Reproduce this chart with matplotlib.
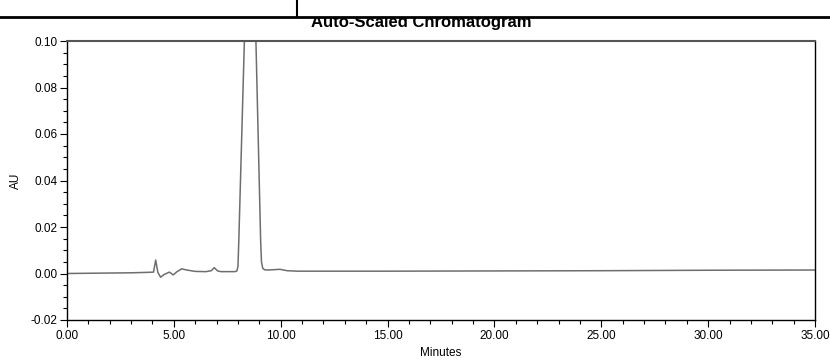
import matplotlib
matplotlib.use('Agg')
from matplotlib import pyplot as plt
from matplotlib.ticker import MultipleLocator, FormatStrFormatter
from matplotlib.patches import Rectangle
from matplotlib.lines import Line2D

# --- DATA ---
minutes = [0.0, 1.0, 2.0, 3.0, 3.8, 4.05, 4.15, 4.25, 4.38, 4.55, 4.79, 4.97,
           5.15, 5.37, 5.6, 6.0, 6.5, 6.75, 6.89, 7.05, 7.2, 7.6, 7.86, 7.95,
           8.0, 8.04, 8.30, 8.57, 8.84, 9.06, 9.10, 9.16, 9.25, 9.4, 9.97,
           10.3, 10.8, 15.0, 20.0, 25.0, 30.0, 35.0]
au = [0.0, 0.0001, 0.0002, 0.0003, 0.0005, 0.0006, 0.0058, 0.0005, -0.0016,
      -0.0004, 0.0006, -0.0006, 0.0008, 0.0020, 0.0015, 0.0009, 0.0008, 0.0012,
      0.0025, 0.0011, 0.0008, 0.0008, 0.0008, 0.0011, 0.0030, 0.0144, 0.1000,
      0.3700, 0.1000, 0.0144, 0.0050, 0.0022, 0.0016, 0.0015, 0.0018, 0.0012,
      0.0010, 0.0010, 0.0011, 0.0012, 0.0014, 0.0015]

TITLE = "Auto-Scaled Chromatogram"
X_LABEL = "Minutes"
Y_LABEL = "AU"

plt.rcParams['font.family'] = ['Liberation Sans', 'DejaVu Sans']

fig = plt.figure(figsize=(8.3, 3.6), dpi=100)
ax = fig.add_axes([67 / 830, 1 - 320 / 360, 748 / 830, 279 / 360])

ax.plot(minutes, au, color='#6e6e6e', linewidth=1.1, clip_on=True)

ax.set_xlim(0, 35)
ax.set_ylim(-0.02, 0.10)
ax.xaxis.set_major_locator(MultipleLocator(5))
ax.xaxis.set_minor_locator(MultipleLocator(1))
ax.yaxis.set_major_locator(MultipleLocator(0.02))
ax.yaxis.set_minor_locator(MultipleLocator(0.005))
ax.xaxis.set_major_formatter(FormatStrFormatter('%.2f'))
ax.yaxis.set_major_formatter(FormatStrFormatter('%.2f'))
ax.tick_params(which='major', direction='out', length=5, width=0.8, labelsize=8.5, pad=2)
ax.tick_params(which='minor', direction='out', length=3, width=0.8)

for side in ['left', 'bottom', 'right']:
    ax.spines[side].set_color('black')
    ax.spines[side].set_linewidth(1.0)
ax.spines['top'].set_color('#555555')
ax.spines['top'].set_linewidth(1.5)

ax.set_xlabel(X_LABEL, fontsize=8.5, labelpad=4)
ax.set_ylabel(Y_LABEL, fontsize=8.5)
ax.yaxis.set_label_coords(-45 / 748, 0.5)

# title, partially covered by the page header band
fig.text(421 / 830, 1 - 27 / 360, TITLE, ha='center', va='baseline',
         fontsize=12, fontweight='bold')
fig.patches.append(Rectangle((0, 1 - 17 / 360), 1, 17 / 360, transform=fig.transFigure,
                             facecolor='white', edgecolor='none', zorder=10))
fig.lines.append(Line2D([0, 1], [1 - 17 / 360, 1 - 17 / 360], transform=fig.transFigure,
                        color='black', linewidth=2, zorder=11))
fig.lines.append(Line2D([297 / 830, 297 / 830], [1 - 17 / 360, 1], transform=fig.transFigure,
                        color='black', linewidth=1.5, zorder=11))

plt.savefig('out.png', dpi=100)
